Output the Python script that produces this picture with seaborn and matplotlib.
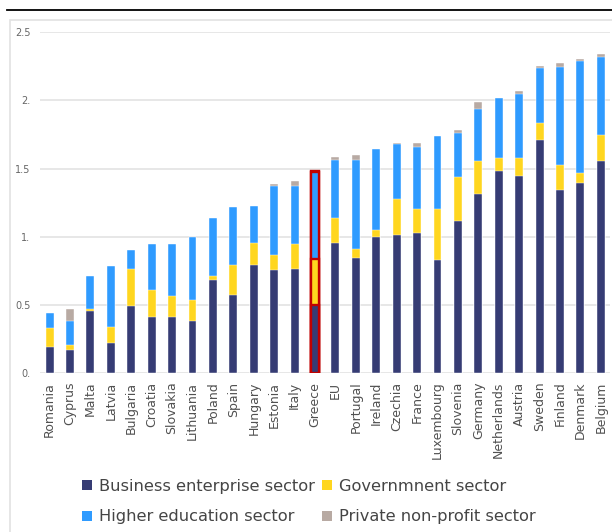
import matplotlib
matplotlib.use("Agg")
import matplotlib.pyplot as plt
from matplotlib.patches import Patch, Rectangle
from matplotlib.lines import Line2D
import seaborn as sns
import pandas as pd
import numpy as np

countries = ["Romania", "Cyprus", "Malta", "Latvia", "Bulgaria", "Croatia", "Slovakia",
             "Lithuania", "Poland", "Spain", "Hungary", "Estonia", "Italy", "Greece", "EU",
             "Portugal", "Ireland", "Czechia", "France", "Luxembourg", "Slovenia", "Germany",
             "Netherlands", "Austria", "Sweden", "Finland", "Denmark", "Belgium"]
business = [0.19, 0.17, 0.46, 0.225, 0.49, 0.41, 0.41, 0.385, 0.68, 0.575, 0.79, 0.76, 0.765,
            0.50, 0.955, 0.845, 1.00, 1.01, 1.03, 0.83, 1.115, 1.31, 1.485, 1.445, 1.71,
            1.345, 1.395, 1.555]
government = [0.14, 0.04, 0.01, 0.115, 0.275, 0.20, 0.155, 0.155, 0.03, 0.215, 0.165, 0.105,
              0.185, 0.335, 0.185, 0.065, 0.05, 0.27, 0.17, 0.37, 0.325, 0.245, 0.095, 0.135,
              0.12, 0.18, 0.07, 0.19]
higher_edu = [0.11, 0.175, 0.24, 0.445, 0.135, 0.34, 0.385, 0.46, 0.43, 0.43, 0.27, 0.51,
              0.425, 0.64, 0.425, 0.65, 0.59, 0.40, 0.46, 0.54, 0.32, 0.38, 0.435, 0.465,
              0.405, 0.72, 0.82, 0.57]
private_np = [0.0, 0.085, 0.0, 0.0, 0.0, 0.0, 0.0, 0.0, 0.0, 0.0, 0.0, 0.015, 0.035, 0.01,
              0.02, 0.04, 0.0, 0.01, 0.03, 0.0, 0.02, 0.05, 0.0, 0.02, 0.015, 0.025, 0.015,
              0.025]
series_names = ["Business enterprise sector", "Governmnent sector",
                "Higher education sector", "Private non-profit sector"]
y_ticks = [0, 0.5, 1, 1.5, 2, 2.5]
y_tick_labels = ["0.", "0.5", "1.", "1.5", "2.", "2.5"]
highlight = "Greece"

colors = ["#363C74", "#FFD61F", "#2F9BFF", "#B8AAA3"]

df = pd.DataFrame({"country": countries, "b": business, "g": government,
                   "h": higher_edu, "p": private_np})
df["c1"] = df["b"]
df["c2"] = df["c1"] + df["g"]
df["c3"] = df["c2"] + df["h"]
df["c4"] = df["c3"] + df["p"]

fig = plt.figure(figsize=(6.12, 5.32), dpi=100)
ax = fig.add_axes([40 / 612, 1 - 373.3 / 532, 570 / 612, (373.3 - 32) / 532])

# stacked bars drawn as overlapping cumulative totals, tallest first
for col, color in zip(["c4", "c3", "c2", "c1"], colors[::-1]):
    sns.barplot(data=df, x="country", y=col, order=countries, color=color,
                width=0.39, saturation=1, ax=ax, edgecolor="white", linewidth=0.3,
                errorbar=None)

# red outline on the highlighted country's segments
hi = countries.index(highlight)
for patch in ax.patches:
    cx = patch.get_x() + patch.get_width() / 2
    if abs(cx - hi) < 0.3 and patch.get_height() > 0.02:
        patch.set_edgecolor("#C00000")
        patch.set_linewidth(1.7)

ax.set_xlim(-0.47, len(countries) - 0.55)
ax.set_ylim(0, 2.5)
ax.set_yticks(y_ticks)
ax.set_yticklabels(y_tick_labels)
ax.yaxis.grid(True, color="#e3e3e3", linewidth=1.2)
ax.set_axisbelow(True)
for s in ax.spines.values():
    s.set_visible(False)
ax.tick_params(axis="y", length=0, pad=7, labelsize=7, labelcolor="#666666")
ax.tick_params(axis="x", length=0, pad=6, labelsize=9, labelcolor="#505050",
               labelrotation=90)
ax.set_xlabel("")
ax.set_ylabel("")

# frame and rule around the chart
fig.add_artist(Rectangle((10 / 612, -0.05), 1.2, 1 - 20 / 532 + 0.05,
                         transform=fig.transFigure, fill=False,
                         edgecolor="#e2e2e2", linewidth=1.2))
fig.add_artist(Line2D([7 / 612, 1], [1 - 10 / 532, 1 - 10 / 532],
                      transform=fig.transFigure, color="black", linewidth=1.3))

handles = [Patch(facecolor=colors[i], edgecolor="none") for i in (0, 2, 1, 3)]
labels = [series_names[i] for i in (0, 2, 1, 3)]
fig.legend(handles, labels, ncol=2, loc="upper left",
           bbox_to_anchor=(82 / 612, 1 - 479 / 532), frameon=False,
           fontsize=11.7, labelcolor="#454545", handlelength=0.6, handleheight=0.6,
           handletextpad=0.45, columnspacing=0.45, labelspacing=0.95,
           borderaxespad=0, borderpad=0)

fig.savefig("out.png", dpi=100)
